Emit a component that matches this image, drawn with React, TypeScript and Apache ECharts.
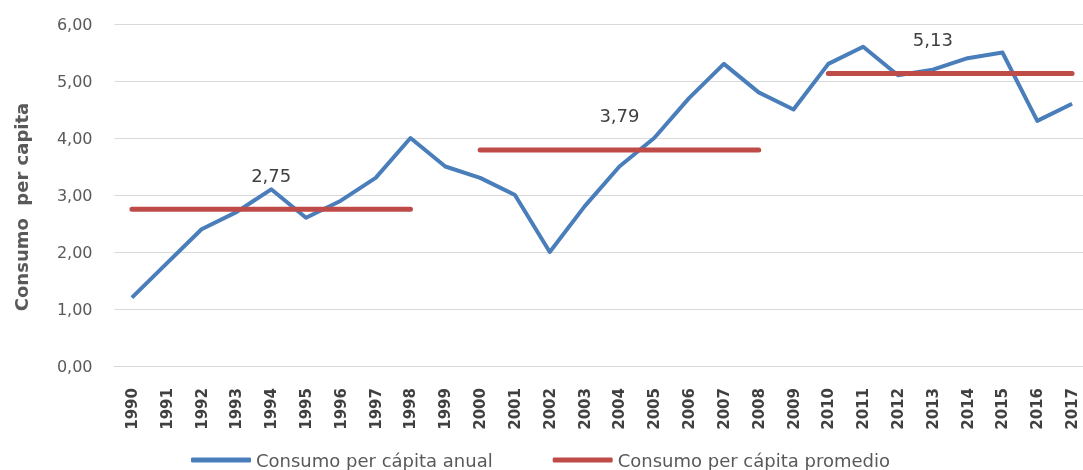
import React, { useEffect, useRef } from "react";
import * as echarts from "echarts";

const years = [
  "1990", "1991", "1992", "1993", "1994", "1995", "1996", "1997", "1998", "1999",
  "2000", "2001", "2002", "2003", "2004", "2005", "2006", "2007", "2008", "2009",
  "2010", "2011", "2012", "2013", "2014", "2015", "2016", "2017",
];
const annual = [
  1.2, 1.8, 2.4, 2.7, 3.1, 2.6, 2.9, 3.3, 4.0, 3.5,
  3.3, 3.0, 2.0, 2.8, 3.5, 4.0, 4.7, 5.3, 4.8, 4.5,
  5.3, 5.6, 5.1, 5.2, 5.4, 5.5, 4.3, 4.6,
];
const periodAverages = [2.75, 3.79, 5.13];
const periodStart = ["1990", "2000", "2010"];
const periodEnd = ["1998", "2008", "2017"];
const periodLabelYear = ["1994", "2004", "2013"];
const yTicks = [0, 1, 2, 3, 4, 5, 6];

const FONT = "DejaVu Sans";
const fmt = (v: number) => v.toFixed(2).replace(".", ",");

export default function App() {
  const ref = useRef<HTMLDivElement>(null);
  useEffect(() => {
    if (!ref.current) return;
    const chart = echarts.init(ref.current, undefined, { renderer: "svg" });

    const avgData = years.map((y) => {
      const yi = years.indexOf(y);
      for (let p = 0; p < periodAverages.length; p++) {
        const s = years.indexOf(periodStart[p]);
        const e = years.indexOf(periodEnd[p]);
        if (yi >= s && yi <= e) {
          if (y === periodLabelYear[p]) {
            return { value: periodAverages[p], label: { show: true } };
          }
          return { value: periodAverages[p] };
        }
      }
      return { value: null as any };
    });

    chart.setOption({
      animation: false,
      textStyle: { fontFamily: FONT },
      grid: { left: 114.5, top: 24, width: 975, height: 342 },
      legend: {
        left: 186,
        top: 446,
        icon: "roundRect",
        itemWidth: 60,
        itemHeight: 5,
        itemGap: 60,
        textStyle: { fontFamily: FONT, fontSize: 18, color: "#595959" },
        data: ["Consumo per cápita anual", "Consumo per cápita promedio"],
      },
      xAxis: {
        type: "category",
        data: years,
        boundaryGap: true,
        axisLine: { show: true, lineStyle: { color: "#d9d9d9", width: 1 } },
        axisTick: { show: false },
        axisLabel: {
          interval: 0,
          rotate: 90,
          margin: 22,
          fontFamily: FONT,
          fontSize: 15,
          fontWeight: "bold",
          color: "#404040",
        },
      },
      yAxis: {
        type: "value",
        min: yTicks[0],
        max: yTicks[yTicks.length - 1],
        interval: 1,
        name: "Consumo  per capita",
        nameLocation: "middle",
        nameGap: 84,
        nameTextStyle: {
          fontFamily: FONT,
          fontSize: 18,
          fontWeight: "bold",
          color: "#595959",
          padding: [0, 24, 0, 0],
        },
        axisLine: { show: false },
        axisTick: { show: false },
        splitLine: { lineStyle: { color: "#d9d9d9", width: 1 } },
        axisLabel: {
          margin: 22,
          fontFamily: FONT,
          fontSize: 16,
          color: "#595959",
          formatter: (v: number) => fmt(v),
        },
      },
      series: [
        {
          name: "Consumo per cápita anual",
          type: "line",
          data: annual,
          showSymbol: false,
          symbol: "none",
          lineStyle: { color: "#4a7ebb", width: 4, join: "round" },
          itemStyle: { color: "#4a7ebb" },
          z: 2,
        },
        {
          name: "Consumo per cápita promedio",
          type: "line",
          data: avgData,
          connectNulls: false,
          showSymbol: true,
          symbol: "circle",
          symbolSize: 0,
          lineStyle: { color: "#be4b48", width: 5, cap: "round" },
          itemStyle: { color: "#be4b48" },
          label: {
            show: false,
            position: "top",
            distance: 25,
            fontFamily: FONT,
            fontSize: 18,
            color: "#404040",
            formatter: (p: any) => fmt(p.value),
          },
          z: 3,
        },
      ],
    });
    return () => chart.dispose();
  }, []);
  return (
    <div
      ref={ref}
      style={{ position: "fixed", left: 0, top: 0, width: 1100, height: 470 }}
    />
  );
}
